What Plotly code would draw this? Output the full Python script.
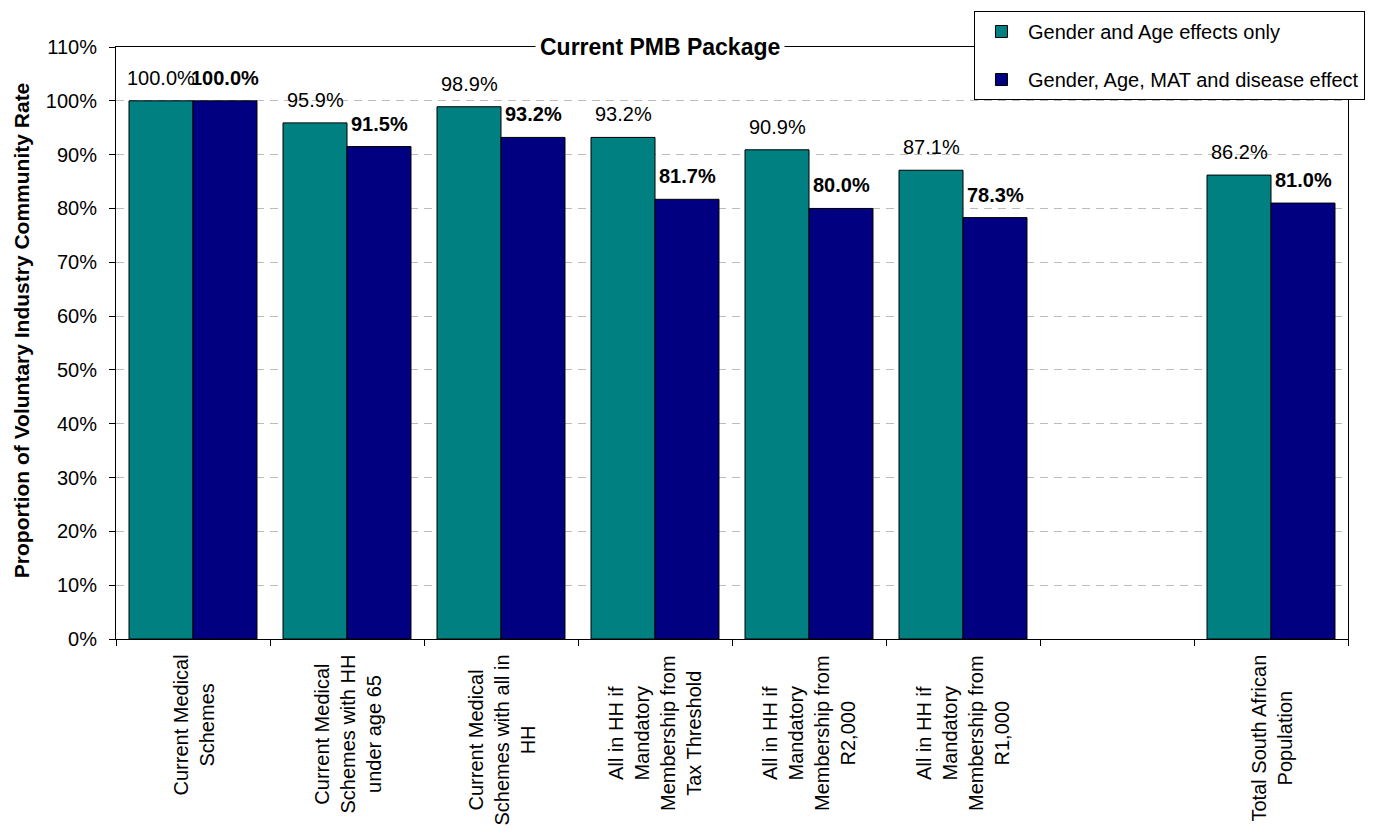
import plotly.graph_objects as go

categories = [
    "Current Medical<br>Schemes",
    "Current Medical<br>Schemes with HH<br>under age 65",
    "Current Medical<br>Schemes with all in<br>HH",
    "All in HH if<br>Mandatory<br>Membership from<br>Tax Threshold",
    "All in HH if<br>Mandatory<br>Membership from<br>R2,000",
    "All in HH if<br>Mandatory<br>Membership from<br>R1,000",
    " ",
    "Total South African<br>Population",
]
gender_age = [1.000, 0.959, 0.989, 0.932, 0.909, 0.871, None, 0.862]
full_effect = [1.000, 0.915, 0.932, 0.817, 0.800, 0.783, None, 0.810]

FONT = "Liberation Sans, Arial, sans-serif"

fig = go.Figure()
fig.add_trace(go.Bar(
    x=categories, y=gender_age, name="Gender and Age effects only",
    marker=dict(color="#008080", line=dict(color="black", width=1)),
    legendgroup="a",
))
fig.add_trace(go.Bar(
    x=categories, y=full_effect, name="Gender, Age, MAT and disease effect",
    marker=dict(color="#000080", line=dict(color="black", width=1)),
    legendgroup="b",
))

annotations = []
# value labels above bars
for cat, v in zip(categories, gender_age):
    if v is not None:
        annotations.append(dict(x=cat, y=v, xref="x", yref="y", text=f"{v:.1%}",
                                showarrow=False, xshift=-32, yshift=10, yanchor="bottom",
                                font=dict(size=20, color="black", family=FONT)))
for cat, v in zip(categories, full_effect):
    if v is not None:
        annotations.append(dict(x=cat, y=v, xref="x", yref="y", text=f"<b>{v:.1%}</b>",
                                showarrow=False, xshift=32, yshift=10, yanchor="bottom",
                                font=dict(size=20, color="black", family=FONT)))
# category labels, rotated and centred
for cat in categories:
    if cat.strip():
        annotations.append(dict(x=cat, y=0, xref="x", yref="paper", text=cat,
                                showarrow=False, textangle=-90, yanchor="top", yshift=-14,
                                align="center",
                                font=dict(size=20, color="black", family=FONT)))
# chart title sitting on the top frame line
annotations.append(dict(x=0.4416, y=1, xref="paper", yref="paper",
                        text="<b>Current PMB Package</b>", showarrow=False,
                        xanchor="center", yanchor="middle", bgcolor="white", borderpad=4,
                        font=dict(size=23, color="black", family=FONT)))
# y axis title
annotations.append(dict(x=0, y=0.52, xref="paper", yref="paper", xshift=-95,
                        xanchor="center", yanchor="middle",
                        text="<b>Proportion of Voluntary Industry Community Rate</b>",
                        showarrow=False, textangle=-90,
                        font=dict(size=21, color="black", family=FONT)))

# the page body adds an 8px margin, so the figure is 8px smaller than the window
fig.update_layout(
    width=1374, height=825,
    margin=dict(l=108, r=34, t=39, b=194, autoexpand=False),
    paper_bgcolor="white", plot_bgcolor="white",
    font=dict(family=FONT, size=20, color="black"),
    barmode="group", bargap=0.169, bargroupgap=0,
    annotations=annotations,
    legend=dict(
        x=0.6964, y=1.0608, xanchor="left", yanchor="top",
        bgcolor="white", bordercolor="black", borderwidth=1,
        font=dict(size=20, family=FONT, color="black"),
        traceorder="grouped", tracegroupgap=19, itemwidth=43,
    ),
)
fig.update_xaxes(
    type="category", tickson="boundaries", ticks="outside", ticklen=6,
    tickcolor="black", showticklabels=False, showline=True, linecolor="black",
    linewidth=1, mirror=True, showgrid=False,
)
fig.update_yaxes(
    range=[0, 1.1], dtick=0.1, tick0=0, tickformat=".0%",
    ticks="outside", ticklen=6, tickcolor="black", ticklabelstandoff=8,
    showline=True, linecolor="black", linewidth=1, mirror=True,
    showgrid=True, gridcolor="#bcbcbc", griddash="8px,6px", zeroline=False,
    tickfont=dict(size=20, family=FONT, color="black"),
)

fig.write_html("out.html")
